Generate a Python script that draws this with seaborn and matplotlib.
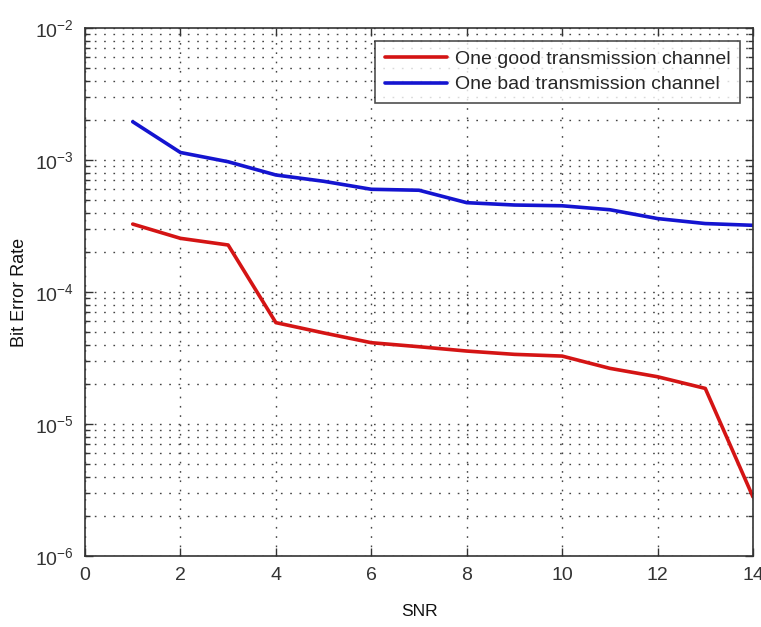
import numpy as np
import pandas as pd
import seaborn as sns
import matplotlib
matplotlib.use("Agg")
import matplotlib.pyplot as plt
from matplotlib.ticker import LogLocator, FixedLocator

snr = [1, 2, 3, 4, 5, 6, 7, 8, 9, 10, 11, 12, 13, 14]
ber_good = [3.27e-4, 2.55e-4, 2.27e-4, 5.86e-5, 4.9e-5, 4.13e-5, 3.85e-5, 3.57e-5,
            3.37e-5, 3.27e-5, 2.64e-5, 2.28e-5, 1.86e-5, 2.8e-6]
ber_bad = [1.95e-3, 1.14e-3, 0.97e-3, 7.7e-4, 6.9e-4, 6.0e-4, 5.9e-4, 4.75e-4,
           4.56e-4, 4.5e-4, 4.2e-4, 3.6e-4, 3.3e-4, 3.2e-4]
labels = ["One good transmission channel", "One bad transmission channel"]
xticks = [0, 2, 4, 6, 8, 10, 12, 14]

df = pd.DataFrame({
    "SNR": snr * 2,
    "BER": ber_good + ber_bad,
    "Series": [labels[0]] * len(snr) + [labels[1]] * len(snr),
})

sns.set_theme(style="white")
plt.rcParams['font.family'] = ['Liberation Sans', 'DejaVu Sans']

fig = plt.figure(figsize=(7.61, 6.27), dpi=100)
ax = fig.add_axes([85/761, 1-556/627, (753-85)/761, (556-28)/627])

sns.lineplot(data=df, x="SNR", y="BER", hue="Series", ax=ax,
             palette={labels[0]: "#d41414", labels[1]: "#1414d0"},
             linewidth=2.6, legend=True)

ax.set_yscale("log")
ax.set_xlim(0, 14)
ax.set_ylim(1e-6, 1e-2)
ax.xaxis.set_major_locator(FixedLocator(xticks))
ax.yaxis.set_major_locator(LogLocator(base=10, numticks=10))
ax.yaxis.set_minor_locator(LogLocator(base=10, subs=np.arange(2, 10), numticks=20))

grid_ls = (0, (1.2, 5.5))
ax.grid(True, which="major", axis="both", color="#444444", linestyle=grid_ls, linewidth=1.0)
ax.grid(True, which="minor", axis="y", color="#444444", linestyle=grid_ls, linewidth=1.0)

ax.tick_params(which="both", direction="in", top=True, right=True,
               bottom=True, left=True, colors="#333333")
ax.tick_params(which="major", length=6, width=1, labelsize=14, labelcolor="#333333", pad=8)
ax.tick_params(which="minor", length=3.5, width=1)
for s in ax.spines.values():
    s.set_color("#333333")
    s.set_linewidth(1.2)

ax.set_xlabel("SNR", fontsize=12.5, labelpad=14, color="#111111")
ax.set_ylabel("Bit Error Rate", fontsize=13, labelpad=5, color="#111111")

leg = ax.legend(loc="upper right", fontsize=14, frameon=True, fancybox=False,
                edgecolor="#222222", borderaxespad=0.65, handlelength=3.2,
                handletextpad=0.4, borderpad=0.5, labelspacing=0.4)
leg.get_frame().set_linewidth(1.2)
for line in leg.get_lines():
    line.set_linewidth(2.6)

fig.savefig("out.png", dpi=100)
